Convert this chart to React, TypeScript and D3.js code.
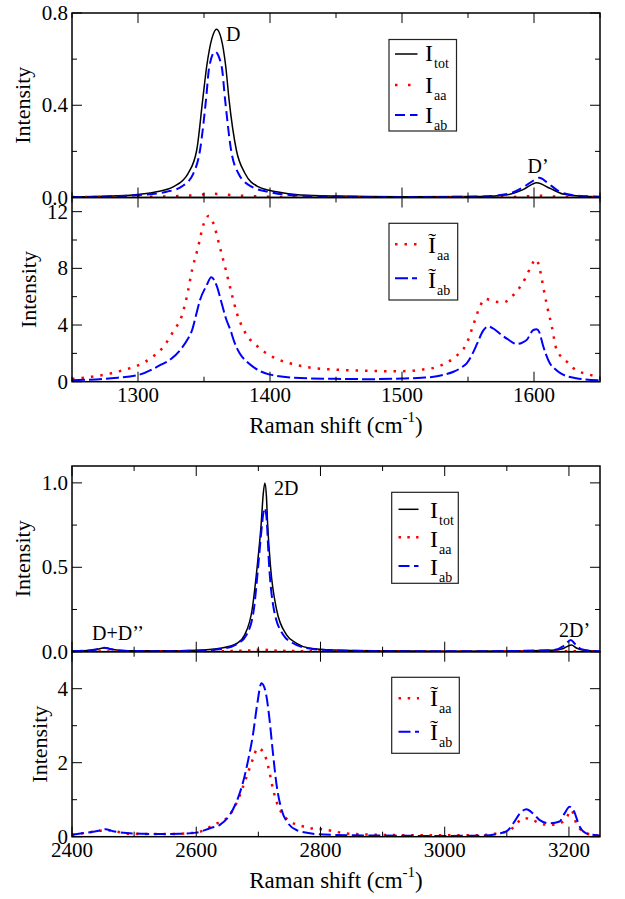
import React from "react";
import * as d3 from "d3";

// ---------- DATA ----------
// Panel A: D / D' region, normalized intensities
const aTotX = [1250, 1280, 1296, 1314, 1327, 1338, 1344.5, 1349, 1352, 1356, 1359.5, 1363, 1366.5, 1369, 1374.5, 1381, 1391, 1405, 1423, 1450, 1500, 1560, 1580, 1592, 1602, 1612, 1622, 1635, 1650];
const aTotY = [0.003, 0.007, 0.011, 0.025, 0.047, 0.105, 0.206, 0.423, 0.567, 0.69, 0.73, 0.69, 0.567, 0.423, 0.206, 0.105, 0.047, 0.025, 0.011, 0.006, 0.003, 0.004, 0.012, 0.035, 0.064, 0.04, 0.015, 0.006, 0.003];
const aAaX = [1250, 1300, 1330, 1345, 1355, 1362, 1372, 1390, 1420, 1500, 1580, 1595, 1603, 1612, 1630, 1650];
const aAaY = [0.002, 0.003, 0.006, 0.011, 0.016, 0.015, 0.01, 0.005, 0.002, 0.001, 0.002, 0.005, 0.008, 0.005, 0.002, 0.001];
const aAbX = [1250, 1280, 1301.5, 1321.7, 1333, 1342, 1347, 1351.5, 1354, 1358.3, 1363.4, 1366, 1370.5, 1376, 1386, 1398.7, 1415, 1450, 1500, 1560, 1580, 1592, 1600, 1604, 1610, 1618, 1630, 1650];
const aAbY = [0.002, 0.005, 0.011, 0.025, 0.047, 0.105, 0.206, 0.423, 0.567, 0.632, 0.567, 0.423, 0.206, 0.105, 0.047, 0.025, 0.011, 0.004, 0.002, 0.004, 0.015, 0.045, 0.075, 0.086, 0.065, 0.03, 0.01, 0.003];

// Panel B: tilde intensities, D / G region
const bAaX = [1250, 1265, 1280, 1290, 1300, 1311, 1320, 1327, 1333, 1337, 1341, 1345, 1350, 1353.5, 1357, 1362, 1366.5, 1371, 1375, 1381, 1391, 1402, 1415, 1430, 1450, 1470, 1490, 1505, 1515, 1525, 1534, 1541, 1549, 1554, 1559, 1563, 1570, 1577, 1583, 1588, 1594, 1598, 1601.5, 1604.5, 1607, 1610, 1613.5, 1617, 1625, 1632, 1640, 1650];
const bAaY = [0.2, 0.35, 0.6, 0.85, 1.15, 1.75, 2.55, 3.6, 4.6, 6.0, 7.9, 9.3, 11.2, 11.7, 11.2, 9.5, 7.9, 6.2, 4.8, 3.5, 2.45, 1.75, 1.3, 1.0, 0.85, 0.78, 0.74, 0.75, 0.85, 1.0, 1.35, 1.8, 2.7, 4.0, 5.3, 5.85, 5.65, 5.6, 6.0, 6.5, 7.4, 8.2, 8.65, 7.9, 6.7, 5.3, 3.9, 2.3, 1.4, 0.8, 0.55, 0.3];
const bAbX = [1250, 1280, 1300, 1317, 1325, 1332, 1337, 1341, 1344, 1347, 1352, 1355.5, 1359.5, 1363.5, 1366.5, 1370, 1373, 1377, 1382, 1387, 1400, 1423, 1450, 1475, 1500, 1515, 1524, 1532, 1539, 1545, 1549, 1553, 1557, 1561.5, 1565.5, 1570, 1574, 1580, 1587, 1591, 1594.5, 1599.5, 1602, 1604, 1607, 1612, 1616, 1620, 1632, 1650];
const bAbY = [0.1, 0.25, 0.47, 1.18, 1.6, 2.24, 2.9, 3.65, 4.7, 5.77, 6.8, 7.37, 6.8, 5.5, 4.5, 3.65, 2.8, 2.0, 1.45, 1.06, 0.5, 0.26, 0.2, 0.18, 0.22, 0.28, 0.35, 0.5, 0.7, 1.0, 1.3, 1.9, 2.7, 3.6, 3.9, 3.7, 3.4, 3.0, 2.66, 2.75, 2.95, 3.65, 3.7, 3.5, 2.5, 1.3, 0.9, 0.6, 0.25, 0.1];

// Panel C: 2D region, normalized intensities
const cTotX = [2400, 2430, 2445, 2452, 2460, 2475, 2500, 2550, 2600, 2638, 2666, 2678, 2690, 2698, 2704.4, 2708, 2710.5, 2713, 2715, 2719.7, 2729.3, 2745.4, 2761.5, 2783, 2820, 2900, 3000, 3100, 3170, 3190, 3204, 3212, 3225, 3250];
const cTotY = [0.003, 0.008, 0.018, 0.024, 0.017, 0.008, 0.005, 0.005, 0.008, 0.02, 0.05, 0.1, 0.25, 0.5, 0.75, 0.94, 1.0, 0.92, 0.75, 0.5, 0.25, 0.1, 0.05, 0.02, 0.01, 0.005, 0.003, 0.004, 0.008, 0.018, 0.04, 0.022, 0.008, 0.003];
const cAaX = [2400, 2600, 2680, 2705, 2730, 2800, 3000, 3200, 3250];
const cAaY = [0.001, 0.002, 0.006, 0.012, 0.006, 0.002, 0.001, 0.003, 0.001];
const cAbX = [2400, 2430, 2445, 2452, 2460, 2475, 2500, 2550, 2600, 2640, 2667.6, 2681, 2692.7, 2699.6, 2705, 2708, 2710.5, 2713, 2717.5, 2725, 2740, 2756, 2780, 2820, 2900, 3000, 3100, 3175, 3192, 3203, 3210, 3220, 3235, 3250];
const cAbY = [0.003, 0.008, 0.018, 0.024, 0.017, 0.007, 0.004, 0.003, 0.006, 0.016, 0.05, 0.1, 0.25, 0.5, 0.72, 0.82, 0.85, 0.8, 0.5, 0.25, 0.1, 0.05, 0.02, 0.008, 0.003, 0.002, 0.004, 0.01, 0.035, 0.07, 0.045, 0.015, 0.005, 0.002];

// Panel D: tilde intensities, 2D region
const dAaX = [2400, 2420, 2445, 2455, 2470, 2495, 2550, 2600, 2625, 2638, 2651.5, 2666, 2681, 2691.7, 2698.6, 2707.8, 2715.9, 2724, 2732, 2740, 2751, 2764, 2788, 2804, 2836, 2873, 2950, 3050, 3088, 3105, 3115.5, 3129, 3142, 3153, 3169, 3185, 3195.7, 3203.8, 3211.9, 3222.7, 3238, 3250];
const dAaY = [0.05, 0.1, 0.16, 0.18, 0.14, 0.08, 0.07, 0.11, 0.29, 0.4, 0.54, 0.95, 1.62, 2.12, 2.39, 2.3, 1.89, 1.26, 0.82, 0.59, 0.41, 0.32, 0.22, 0.2, 0.1, 0.06, 0.04, 0.04, 0.1, 0.17, 0.36, 0.5, 0.45, 0.36, 0.32, 0.36, 0.5, 0.72, 0.36, 0.14, 0.05, 0.03];
const dAbX = [2400, 2420, 2445, 2454, 2466, 2488, 2515, 2541, 2574, 2600, 2622, 2638, 2654, 2665, 2675.6, 2683.6, 2691.7, 2698, 2705, 2711.6, 2717.5, 2723, 2729, 2737.5, 2748, 2761.5, 2788, 2820, 2900, 3000, 3060, 3088, 3100, 3112, 3121, 3131.6, 3142, 3153, 3169, 3185, 3193, 3201, 3206.6, 3217.4, 3228, 3244, 3250];
const dAbY = [0.05, 0.1, 0.17, 0.2, 0.15, 0.1, 0.08, 0.07, 0.08, 0.11, 0.23, 0.32, 0.59, 0.95, 1.49, 2.07, 2.8, 3.56, 4.15, 3.92, 3.24, 2.34, 1.44, 0.72, 0.36, 0.18, 0.08, 0.05, 0.03, 0.02, 0.03, 0.09, 0.15, 0.4, 0.63, 0.74, 0.63, 0.45, 0.36, 0.41, 0.63, 0.81, 0.74, 0.27, 0.09, 0.04, 0.03];

// Tick values
const topXTicks = [1300, 1400, 1500, 1600];
const topXMinor = [1250, 1350, 1450, 1550, 1650];
const botXTicks = [2400, 2600, 2800, 3000, 3200];
const botXMinor = [2500, 2700, 2900, 3100];
const aYTicks = [0, 0.4, 0.8];
const aYMinor = [0.2, 0.6];
const bYTicks = [0, 4, 8, 12];
const bYMinor = [2, 6, 10];
const cYTicks = [0, 0.5, 1.0];
const cYMinor = [0.25, 0.75];
const dYTicks = [0, 2, 4];
const dYMinor = [1, 3, 5];

const FONT = "'Liberation Serif', 'Times New Roman', Times, 'DejaVu Serif', serif";
const LEFT = 72;
const RIGHT = 600;

type Series = { xs: number[]; ys: number[]; kind: "tot" | "aa" | "ab" };

const zip = (xs: number[], ys: number[]) => xs.map((x, i) => [x, ys[i]] as [number, number]);

function seriesStyle(kind: string, dotPeriod: number, dash: string) {
  if (kind === "tot") return { stroke: "#000", strokeWidth: 1.5, strokeDasharray: undefined as any };
  if (kind === "aa") return { stroke: "#ff0000", strokeWidth: 2.5, strokeDasharray: `2.5 ${dotPeriod - 2.5}` };
  return { stroke: "#0000ff", strokeWidth: 2, strokeDasharray: dash };
}

type LegendRow = { kind: "tot" | "aa" | "ab"; sub: string; lineY: number; base: number; tilde: boolean };

type PanelCfg = {
  xDomain: [number, number];
  yDomain: [number, number];
  top: number;
  bottom: number;
  series: Series[];
  xTicks: number[];
  xMinor: number[];
  yTicks: number[];
  yMinor: number[];
  yFmt: (v: number) => string;
  showXLabels: boolean;
  yLabelX: number;
  dotPeriod: number;
  dash: string;
  legend: { x0: number; y0: number; x1: number; y1: number; sx0: number; sx1: number; tx: number; rows: LegendRow[] };
  annotations: { text: string; x: number; y: number }[];
};

function Panel({ cfg }: { cfg: PanelCfg }) {
  const x = d3.scaleLinear().domain(cfg.xDomain).range([LEFT, RIGHT]);
  const y = d3.scaleLinear().domain(cfg.yDomain).range([cfg.bottom, cfg.top]);
  const line = d3
    .line<[number, number]>()
    .x((d) => x(d[0]))
    .y((d) => y(d[1]))
    .curve(d3.curveMonotoneX);
  const MAJ = 10;
  const MIN = 5;
  const clipId = `clip-${Math.round(cfg.top)}`;
  const order = ["tot", "aa", "ab"];
  const sorted = [...cfg.series].sort((a, b) => order.indexOf(a.kind) - order.indexOf(b.kind));
  return (
    <g>
      <defs>
        <clipPath id={clipId}>
          <rect x={LEFT} y={cfg.top} width={RIGHT - LEFT} height={cfg.bottom - cfg.top} />
        </clipPath>
      </defs>
      <g clipPath={`url(#${clipId})`}>
        {sorted.map((s, i) => {
          const st = seriesStyle(s.kind, cfg.dotPeriod, cfg.dash);
          return (
            <path
              key={i}
              d={line(zip(s.xs, s.ys)) || ""}
              fill="none"
              stroke={st.stroke}
              strokeWidth={st.strokeWidth}
              strokeDasharray={st.strokeDasharray}
              strokeLinecap="butt"
            />
          );
        })}
      </g>
      <rect x={LEFT} y={cfg.top} width={RIGHT - LEFT} height={cfg.bottom - cfg.top} fill="none" stroke="#000" strokeWidth={1.5} />
      {cfg.xTicks.map((t) => (
        <g key={"xt" + t}>
          <line x1={x(t)} x2={x(t)} y1={cfg.bottom} y2={cfg.bottom - MAJ} stroke="#000" strokeWidth={1} />
          <line x1={x(t)} x2={x(t)} y1={cfg.top} y2={cfg.top + MAJ} stroke="#000" strokeWidth={1} />
        </g>
      ))}
      {cfg.xMinor.map((t) => (
        <g key={"xm" + t}>
          <line x1={x(t)} x2={x(t)} y1={cfg.bottom} y2={cfg.bottom - MIN} stroke="#000" strokeWidth={1} />
          <line x1={x(t)} x2={x(t)} y1={cfg.top} y2={cfg.top + MIN} stroke="#000" strokeWidth={1} />
        </g>
      ))}
      {cfg.yTicks.map((t) => (
        <g key={"yt" + t}>
          <line x1={LEFT} x2={LEFT + MAJ} y1={y(t)} y2={y(t)} stroke="#000" strokeWidth={1} />
          <line x1={RIGHT} x2={RIGHT - MAJ} y1={y(t)} y2={y(t)} stroke="#000" strokeWidth={1} />
          <text x={LEFT - 4} y={y(t) + 7} textAnchor="end" fontSize={21} fontFamily={FONT}>
            {cfg.yFmt(t)}
          </text>
        </g>
      ))}
      {cfg.yMinor.map((t) => (
        <g key={"ym" + t}>
          <line x1={LEFT} x2={LEFT + MIN} y1={y(t)} y2={y(t)} stroke="#000" strokeWidth={1} />
          <line x1={RIGHT} x2={RIGHT - MIN} y1={y(t)} y2={y(t)} stroke="#000" strokeWidth={1} />
        </g>
      ))}
      {cfg.showXLabels &&
        cfg.xTicks.map((t) => (
          <text key={"xl" + t} x={x(t)} y={cfg.bottom + 20} textAnchor="middle" fontSize={21} fontFamily={FONT}>
            {t}
          </text>
        ))}
      {cfg.showXLabels && (
        <text x={(LEFT + RIGHT) / 2} y={cfg.bottom + 51.5} textAnchor="middle" fontSize={23} fontFamily={FONT}>
          Raman shift (cm
          <tspan fontSize={15} dy={-11}>-1</tspan>
          <tspan dy={11}>)</tspan>
        </text>
      )}
      <text
        transform={`translate(${cfg.yLabelX},${(cfg.top + cfg.bottom) / 2}) rotate(-90)`}
        textAnchor="middle"
        fontSize={22}
        fontFamily={FONT}
      >
        Intensity
      </text>
      <rect
        x={cfg.legend.x0}
        y={cfg.legend.y0}
        width={cfg.legend.x1 - cfg.legend.x0}
        height={cfg.legend.y1 - cfg.legend.y0}
        fill="#fff"
        stroke="#222"
        strokeWidth={1.2}
      />
      {cfg.legend.rows.map((r, i) => {
        const st = seriesStyle(r.kind, cfg.dotPeriod, cfg.dash);
        return (
          <g key={"lg" + i}>
            <line
              x1={cfg.legend.sx0}
              x2={cfg.legend.sx1}
              y1={r.lineY}
              y2={r.lineY}
              stroke={st.stroke}
              strokeWidth={st.strokeWidth}
              strokeDasharray={st.strokeDasharray}
            />
            <text x={cfg.legend.tx} y={r.base} fontSize={24} fontFamily={FONT}>
              {r.tilde ? "Ĩ" : "I"}
              <tspan fontSize={14} dy={7} dx={1}>
                {r.sub}
              </tspan>
            </text>
          </g>
        );
      })}
      {cfg.annotations.map((a, i) => (
        <text key={"an" + i} x={a.x} y={a.y} fontSize={20} fontFamily={FONT}>
          {a.text}
        </text>
      ))}
    </g>
  );
}

const f1 = d3.format(".1f");
const f0 = d3.format("d");

const panels: PanelCfg[] = [
  {
    xDomain: [1250, 1650],
    yDomain: [0, 0.8],
    top: 13,
    bottom: 197.5,
    series: [
      { xs: aTotX, ys: aTotY, kind: "tot" },
      { xs: aAaX, ys: aAaY, kind: "aa" },
      { xs: aAbX, ys: aAbY, kind: "ab" },
    ],
    xTicks: topXTicks,
    xMinor: topXMinor,
    yTicks: aYTicks,
    yMinor: aYMinor,
    yFmt: f1,
    showXLabels: false,
    yLabelX: 30,
    dotPeriod: 13,
    dash: "10 5",
    legend: {
      x0: 389, y0: 39.5, x1: 456.5, y1: 131, sx0: 395, sx1: 417.5, tx: 425,
      rows: [
        { kind: "tot", sub: "tot", lineY: 54, base: 61, tilde: false },
        { kind: "aa", sub: "aa", lineY: 85, base: 92.5, tilde: false },
        { kind: "ab", sub: "ab", lineY: 115, base: 122.5, tilde: false },
      ],
    },
    annotations: [
      { text: "D", x: 226, y: 40.5 },
      { text: "D’", x: 527.5, y: 172.5 },
    ],
  },
  {
    xDomain: [1250, 1650],
    yDomain: [0, 13],
    top: 197.5,
    bottom: 381.7,
    series: [
      { xs: bAaX, ys: bAaY, kind: "aa" },
      { xs: bAbX, ys: bAbY, kind: "ab" },
    ],
    xTicks: topXTicks,
    xMinor: topXMinor,
    yTicks: bYTicks,
    yMinor: bYMinor,
    yFmt: f0,
    showXLabels: true,
    yLabelX: 35.5,
    dotPeriod: 9.5,
    dash: "13 4",
    legend: {
      x0: 389, y0: 223.3, x1: 457.7, y1: 300, sx0: 395, sx1: 417, tx: 428,
      rows: [
        { kind: "aa", sub: "aa", lineY: 244.3, base: 253.3, tilde: true },
        { kind: "ab", sub: "ab", lineY: 278.3, base: 288, tilde: true },
      ],
    },
    annotations: [],
  },
  {
    xDomain: [2400, 3250],
    yDomain: [0, 1.1],
    top: 466,
    bottom: 651.7,
    series: [
      { xs: cTotX, ys: cTotY, kind: "tot" },
      { xs: cAaX, ys: cAaY, kind: "aa" },
      { xs: cAbX, ys: cAbY, kind: "ab" },
    ],
    xTicks: botXTicks,
    xMinor: botXMinor,
    yTicks: cYTicks,
    yMinor: cYMinor,
    yFmt: f1,
    showXLabels: false,
    yLabelX: 30,
    dotPeriod: 8.8,
    dash: "11 4.5",
    legend: {
      x0: 391.7, y0: 492.3, x1: 458.3, y1: 583.3, sx0: 398.5, sx1: 418.5, tx: 430,
      rows: [
        { kind: "tot", sub: "tot", lineY: 509.3, base: 518.3, tilde: false },
        { kind: "aa", sub: "aa", lineY: 537.3, base: 546.7, tilde: false },
        { kind: "ab", sub: "ab", lineY: 566, base: 575, tilde: false },
      ],
    },
    annotations: [
      { text: "2D", x: 274, y: 495 },
      { text: "D+D’’", x: 92, y: 640 },
      { text: "2D’", x: 559, y: 636.7 },
    ],
  },
  {
    xDomain: [2400, 3250],
    yDomain: [0, 5],
    top: 651.7,
    bottom: 836.7,
    series: [
      { xs: dAaX, ys: dAaY, kind: "aa" },
      { xs: dAbX, ys: dAbY, kind: "ab" },
    ],
    xTicks: botXTicks,
    xMinor: botXMinor,
    yTicks: dYTicks,
    yMinor: dYMinor,
    yFmt: f0,
    showXLabels: true,
    yLabelX: 46.5,
    dotPeriod: 9.2,
    dash: "12 4.5",
    legend: {
      x0: 391.7, y0: 677.3, x1: 459.3, y1: 753.3, sx0: 398.5, sx1: 419, tx: 430,
      rows: [
        { kind: "aa", sub: "aa", lineY: 698.3, base: 706, tilde: true },
        { kind: "ab", sub: "ab", lineY: 731.7, base: 739.5, tilde: true },
      ],
    },
    annotations: [],
  },
];

export default function App() {
  return (
    <div style={{ position: "absolute", left: 0, top: 0, width: 625, height: 899, background: "#fff" }}>
      <svg width={625} height={899} viewBox="0 0 625 899" style={{ display: "block" }}>
        <rect x={0} y={0} width={625} height={899} fill="#fff" />
        {panels.map((p, i) => (
          <Panel key={i} cfg={p} />
        ))}
      </svg>
    </div>
  );
}
